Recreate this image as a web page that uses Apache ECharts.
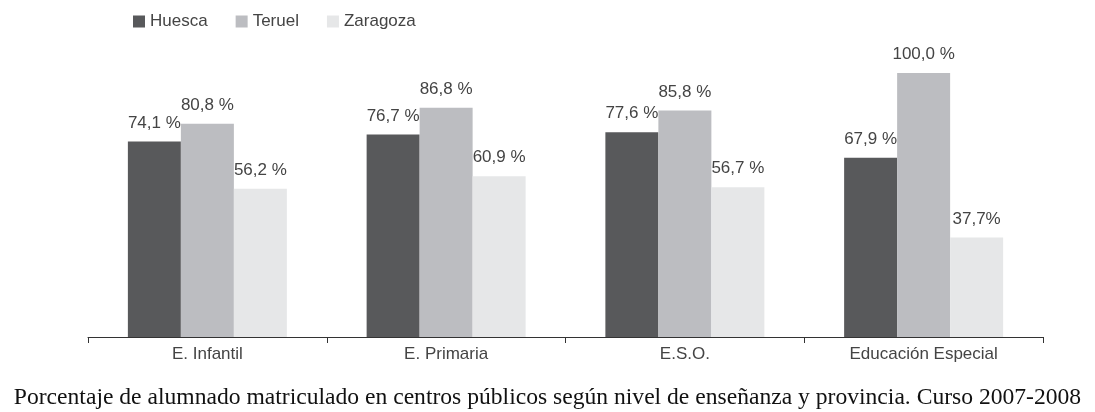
<!DOCTYPE html>
<html><head><meta charset="utf-8">
<script src="https://cdn.jsdelivr.net/npm/echarts@6/dist/echarts.min.js"></script>
<style>html,body{margin:0;padding:0;background:#fff}#c{width:1095px;height:412px}</style>
</head><body><div id="c"></div>
<script>
const categories = ['E. Infantil', 'E. Primaria', 'E.S.O.', 'Educación Especial'];
const huesca = [74.1, 76.7, 77.6, 67.9];
const teruel = [80.8, 86.8, 85.8, 100.0];
const zaragoza = [56.2, 60.9, 56.7, 37.7];
const zaragozaLabels = ['56,2 %', '60,9 %', '56,7 %', '37,7%'];
const title = 'Porcentaje de alumnado matriculado en centros públicos según nivel de enseñanza y provincia. Curso 2007-2008';

const fmt = v => v.toFixed(1).replace('.', ',') + ' %';
const sans = 'Liberation Sans, Arial, sans-serif';
const lbl = {show: true, position: 'top', distance: 10, color: '#444', fontFamily: sans, fontSize: 17};
const chart = echarts.init(document.getElementById('c'));
chart.setOption({
  animation: false,
  title: {text: title, left: 'center', bottom: -3, textStyle: {fontFamily: 'Liberation Serif, Times New Roman, serif', fontWeight: 'normal', fontSize: 23.6, color: '#111'}},
  legend: {left: 128, top: 8, itemWidth: 12, itemHeight: 12, itemGap: 28, icon: 'rect',
    textStyle: {fontFamily: sans, fontSize: 17, color: '#444'}},
  grid: {left: 88, right: 52, top: 73, bottom: 75},
  xAxis: {type: 'category', data: categories,
    axisLine: {lineStyle: {color: '#333', width: 1}},
    axisTick: {show: true, length: 6, lineStyle: {color: '#333'}},
    axisLabel: {color: '#444', fontFamily: sans, fontSize: 17, margin: 9}},
  yAxis: {type: 'value', min: 0, max: 100, show: false, splitLine: {show: false}},
  series: [
    {name: 'Huesca', type: 'bar', data: huesca, barWidth: 53, barGap: '0%', itemStyle: {color: '#58595b'}, label: {...lbl, formatter: p => fmt(p.value)}},
    {name: 'Teruel', type: 'bar', data: teruel, barWidth: 53, barGap: '0%', itemStyle: {color: '#bcbdc1'}, label: {...lbl, formatter: p => fmt(p.value)}},
    {name: 'Zaragoza', type: 'bar', data: zaragoza, barWidth: 53, barGap: '0%', itemStyle: {color: '#e6e7e8'}, label: {...lbl, formatter: p => zaragozaLabels[p.dataIndex]}}
  ]
});
</script></body></html>
